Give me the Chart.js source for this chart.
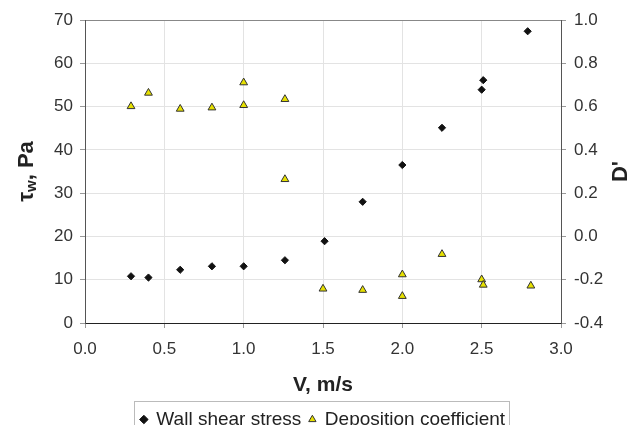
<!DOCTYPE html>
<html>
<head>
<meta charset="utf-8">
<script src="https://cdn.jsdelivr.net/npm/chart.js@4.4.1/dist/chart.umd.min.js"></script>
<style>
html,body{margin:0;padding:0;background:#fff;}
#wrap{width:634px;height:425px;position:relative;}
</style>
</head>
<body>
<div id="wrap"><canvas id="c" width="634" height="425"></canvas></div>
<script>
// ---- Data ----
const velocityShear = [0.29, 0.40, 0.60, 0.80, 1.00, 1.26, 1.51, 1.75, 2.00, 2.25, 2.50, 2.51, 2.79];
const wallShearStress = [10.8, 10.5, 12.3, 13.1, 13.1, 14.5, 18.9, 28.0, 36.5, 45.1, 53.9, 56.1, 67.4];

const velocityDep = [0.29, 0.40, 0.60, 0.80, 1.00, 1.00, 1.26, 1.26, 1.50, 1.75, 2.00, 2.00, 2.25, 2.50, 2.51, 2.81];
const depositionCoeff = [0.601, 0.663, 0.589, 0.595, 0.711, 0.606, 0.634, 0.264, -0.242, -0.248, -0.176, -0.276, -0.082, -0.199, -0.224, -0.228];

const xTicks = [0.0, 0.5, 1.0, 1.5, 2.0, 2.5, 3.0];
const leftTicks = [0, 10, 20, 30, 40, 50, 60, 70];
const rightTicks = [-0.4, -0.2, 0.0, 0.2, 0.4, 0.6, 0.8, 1.0];

const seriesNames = ['Wall shear stress', 'Deposition coefficient'];
const xTitle = 'V, m/s';
const rightTitle = "D'";

const toPts = (xs, ys) => xs.map((x, i) => ({x: x, y: ys[i]}));
const fmt1 = v => (Math.abs(v) < 1e-9 ? 0 : v).toFixed(1);

const FONT = '"Liberation Sans", Arial, sans-serif';

const titlesPlugin = {
  id: 'titles',
  afterDraw(chart) {
    const ctx = chart.ctx;
    const a = chart.chartArea;
    const cy = (a.top + a.bottom) / 2;
    // left title with subscript
    ctx.save();
    ctx.translate(27, cy);
    ctx.rotate(-Math.PI / 2);
    ctx.fillStyle = '#222';
    ctx.textBaseline = 'middle';
    const big = 'bold 22px ' + FONT;
    const small = 'bold 15px ' + FONT;
    ctx.font = big; const w1 = ctx.measureText('τ').width;
    ctx.font = small; const w2 = ctx.measureText('w').width;
    ctx.font = big; const w3 = ctx.measureText(', Pa').width;
    let x0 = -(w1 + w2 + w3) / 2;
    ctx.textAlign = 'left';
    ctx.font = big; ctx.fillText('τ', x0, 0);
    ctx.font = small; ctx.fillText('w', x0 + w1, 5);
    ctx.font = big; ctx.fillText(', Pa', x0 + w1 + w2, 0);
    ctx.restore();
    // right title
    ctx.save();
    ctx.translate(621, cy);
    ctx.rotate(-Math.PI / 2);
    ctx.fillStyle = '#222';
    ctx.textAlign = 'center';
    ctx.textBaseline = 'middle';
    ctx.font = 'bold 22px ' + FONT;
    ctx.fillText(rightTitle, 0, 0);
    ctx.restore();
    // legend border
    const lg = chart.legend;
    if (lg && lg.legendHitBoxes && lg.legendHitBoxes.length) {
      let l = Infinity, r = -Infinity;
      lg.legendHitBoxes.forEach(h => { l = Math.min(l, h.left); r = Math.max(r, h.left + h.width); });
      ctx.save();
      ctx.strokeStyle = '#bbb';
      ctx.lineWidth = 1;
      ctx.strokeRect(Math.round(l - 7) + 0.5, 401.5, Math.round(r - l + 11), 40);
      ctx.restore();
    }
  }
};

new Chart(document.getElementById('c'), {
  type: 'scatter',
  data: {
    datasets: [
      {
        label: seriesNames[0],
        data: toPts(velocityShear, wallShearStress),
        yAxisID: 'y',
        pointStyle: 'rectRot',
        pointRadius: 3.6,
        backgroundColor: '#111',
        borderColor: '#111',
        borderWidth: 1
      },
      {
        label: seriesNames[1],
        data: toPts(velocityDep, depositionCoeff),
        yAxisID: 'y1',
        pointStyle: 'triangle',
        pointRadius: 4.5,
        backgroundColor: '#e6e000',
        borderColor: '#333',
        borderWidth: 1
      }
    ]
  },
  plugins: [titlesPlugin],
  options: {
    responsive: false,
    animation: false,
    layout: { padding: { top: 20, left: 0, right: 0, bottom: -14 } },
    plugins: {
      tooltip: { enabled: false },
      legend: {
        position: 'bottom',
        fullSize: false,
        labels: {
          usePointStyle: true,
          boxWidth: 6,
          boxHeight: 6,
          padding: 8,
          color: '#222',
          font: { family: FONT, size: 19 }
        }
      }
    },
    scales: {
      x: {
        type: 'linear',
        min: 0, max: 3,
        afterBuildTicks: s => { s.ticks = xTicks.map(v => ({value: v})); },
        afterFit: s => { s.height = 79; },
        ticks: { callback: v => fmt1(v), color: '#333', font: { family: FONT, size: 17 }, padding: 11, maxRotation: 0 },
        grid: { color: ctx => (ctx.tick && ctx.tick.value === 0) ? 'rgba(0,0,0,0)' : '#e3e3e3', tickColor: '#999', tickLength: 5 },
        border: { color: '#222', width: 1 },
        title: { display: true, text: xTitle, color: '#222', font: { family: FONT, size: 21, weight: 'bold' }, padding: { top: 0, bottom: 4 } }
      },
      y: {
        type: 'linear',
        position: 'left',
        min: 0, max: 70,
        afterBuildTicks: s => { s.ticks = leftTicks.map(v => ({value: v})); },
        afterFit: s => { s.width = 85; },
        ticks: { color: '#333', font: { family: FONT, size: 17 }, padding: 7 },
        grid: { color: ctx => (ctx.tick && ctx.tick.value === 70) ? '#888' : (ctx.tick && ctx.tick.value === 0 ? 'rgba(0,0,0,0)' : '#e3e3e3'), tickColor: '#999', tickLength: 5 },
        border: { color: '#555', width: 1 }
      },
      y1: {
        type: 'linear',
        position: 'right',
        min: -0.4, max: 1.0,
        afterBuildTicks: s => { s.ticks = rightTicks.map(v => ({value: v})); },
        afterFit: s => { s.width = 73; },
        ticks: { callback: v => fmt1(v), color: '#333', font: { family: FONT, size: 17 }, padding: 8 },
        grid: { drawOnChartArea: false, tickColor: '#999', tickLength: 5 },
        border: { color: '#555', width: 1 }
      }
    }
  }
});
</script>
</body>
</html>
